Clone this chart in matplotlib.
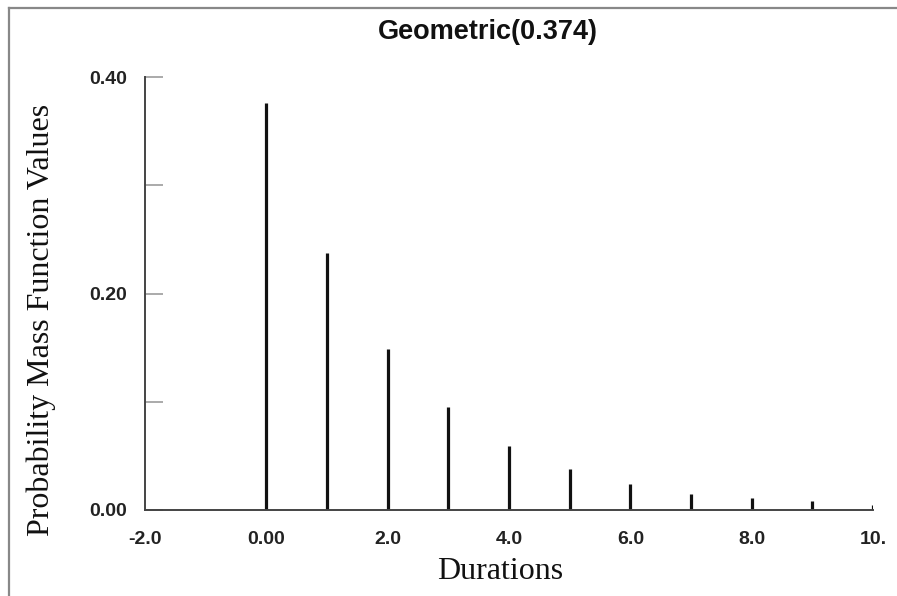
"""
Geometric(0.374) probability mass function
"""
import matplotlib
matplotlib.use("Agg")
import matplotlib.pyplot as plt
from matplotlib.lines import Line2D

# values
durations = [0, 1, 2, 3, 4, 5, 6, 7, 8, 9, 10]
pmf_values = [0.376, 0.237, 0.149, 0.095, 0.059, 0.038, 0.024, 0.015, 0.011, 0.008, 0.005]
x_ticks = [-2, 0, 2, 4, 6, 8, 10]
x_labels = ["-2.0", "0.00", "2.0", "4.0", "6.0", "8.0", "10."]
y_ticks = [0.0, 0.1, 0.2, 0.3, 0.4]
y_labels = ["0.00", "", "0.20", "", "0.40"]


def main():
    fig = plt.figure(figsize=(8.97, 5.96), dpi=100)
    ax = fig.add_axes([0.1617, 0.1443, 0.8115, 0.7265])

    ax.vlines(durations, 0, pmf_values, color="#111111", linewidth=2.3)

    ax.set_xlim(-2, 10)
    ax.set_ylim(0, 0.4)
    for side in ("top", "right"):
        ax.spines[side].set_visible(False)
    for side in ("left", "bottom"):
        ax.spines[side].set_color("#444444")
        ax.spines[side].set_linewidth(1.4)

    ax.set_xticks(x_ticks)
    ax.set_xticklabels(x_labels, fontfamily="Liberation Sans",
                       fontweight="bold", fontsize=14)
    ax.set_yticks(y_ticks)
    ax.set_yticklabels(y_labels, fontfamily="Liberation Sans",
                       fontweight="bold", fontsize=14)
    ax.tick_params(axis="x", length=0, pad=15, colors="#222222")
    ax.tick_params(axis="y", direction="in", length=13, width=1.4,
                   color="#aaaaaa", pad=13, labelcolor="#222222")

    fig.text(488 / 897, 1 - 32 / 596, "Geometric(0.374)",
             fontfamily="Liberation Sans", fontweight="bold", fontsize=19.5,
             ha="center", va="center", color="#111111")

    ax.set_xlabel("Durations", fontfamily="Liberation Serif", fontsize=23,
                  color="#111111")
    ax.xaxis.label.set_va("center")
    ax.xaxis.set_label_coords(0.4876, -0.1410)

    ax.set_ylabel("Probability Mass Function Values",
                  fontfamily="Liberation Serif", fontsize=23, color="#111111")
    ax.yaxis.label.set_va("center")
    ax.yaxis.set_label_coords(-0.143, 0.439)

    # window frame lines (top and left)
    fig.add_artist(Line2D([0.010, 1.0], [0.986, 0.986], color="#888888",
                          linewidth=1.6, transform=fig.transFigure))
    fig.add_artist(Line2D([0.010, 0.010], [0.0, 0.986], color="#888888",
                          linewidth=1.6, transform=fig.transFigure))

    fig.savefig("out.png", dpi=100)


if __name__ == '__main__':
    main()
